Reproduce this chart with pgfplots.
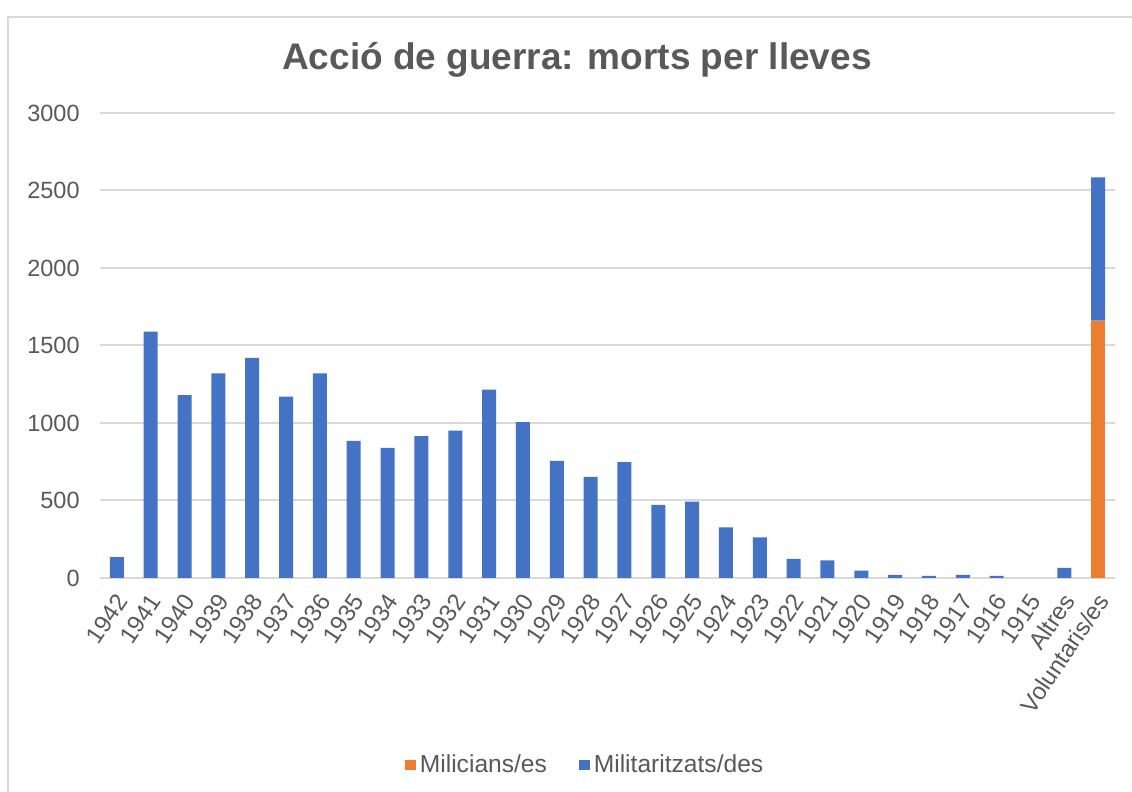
\documentclass[border=0pt]{standalone}
\usepackage{pgfplots}
\pgfplotsset{compat=1.18}
\usepackage{fontspec}
\setmainfont{Liberation Sans}
\definecolor{blueA}{HTML}{4472C4}
\definecolor{orangeA}{HTML}{ED7D31}
\definecolor{gridA}{HTML}{D9D9D9}
\definecolor{textA}{HTML}{595959}
\begin{document}
\begin{tikzpicture}[x=1pt,y=1pt]
\path[use as bounding box] (0,0) rectangle (566,396);
\fill[white] (0,0) rectangle (566,396);
\draw[gridA, line width=1pt] (4,-5) -- (4,387.5) -- (575,387.5);
\node[text=textA, font=\fontsize{18.5}{22}\selectfont\bfseries] at (288.5,366) {Acció de guerra: morts per lleves};
\begin{axis}[
  at={(50pt,107pt)}, anchor=south west, scale only axis,
  width=507.5pt, height=232.5pt,
  ybar stacked, bar width=7pt,
  xmin=-0.5, xmax=29.5, ymin=0, ymax=3000,
  ytick={0,500,...,3000},
  xtick=data,
  xticklabels={1942,1941,1940,1939,1938,1937,1936,1935,1934,1933,1932,1931,1930,1929,1928,1927,1926,1925,1924,1923,1922,1921,1920,1919,1918,1917,1916,1915,Altres,Voluntaris/es},
  axis line style={draw=none},
  major tick length=0pt,
  ymajorgrids, major grid style={gridA, line width=1pt},
  /pgf/number format/assume math mode=true,
  /pgf/number format/1000 sep={},
  yticklabel style={inner sep=0pt, xshift=-10pt, font=\fontsize{11.75}{14}\selectfont, text=textA},
  xticklabel style={inner sep=0pt, xshift=2.5pt, yshift=-9pt, rotate=56, anchor=east, font=\fontsize{12}{14}\selectfont, text=textA},
  legend style={at={(0.479,-0.402)}, anchor=center, draw=none, legend columns=2,
    font=\fontsize{12.3}{14}\selectfont, text=textA,
    /tikz/every even column/.append style={column sep=14pt}},
  legend image code/.code={\fill[#1] (0pt,-2.7pt) rectangle (5.4pt,2.7pt);},
]
\addplot[fill=orangeA, draw=none] coordinates {
(0,0) (1,0) (2,0) (3,0) (4,0) (5,0) (6,0) (7,0) (8,0) (9,0)
(10,0) (11,0) (12,0) (13,0) (14,0) (15,0) (16,0) (17,0) (18,0) (19,0)
(20,0) (21,0) (22,0) (23,0) (24,0) (25,0) (26,0) (27,0) (28,0) (29,1660)};
\addplot[fill=blueA, draw=none] coordinates {
(0,135) (1,1590) (2,1180) (3,1320) (4,1420) (5,1170) (6,1320) (7,885) (8,840) (9,915)
(10,950) (11,1215) (12,1005) (13,755) (14,652) (15,748) (16,471) (17,492) (18,327) (19,262)
(20,123) (21,114) (22,47) (23,20) (24,13) (25,20) (26,13) (27,0) (28,65) (29,925)};
\legend{Milicians/es, Militaritzats/des}
\end{axis}
\end{tikzpicture}
\end{document}
